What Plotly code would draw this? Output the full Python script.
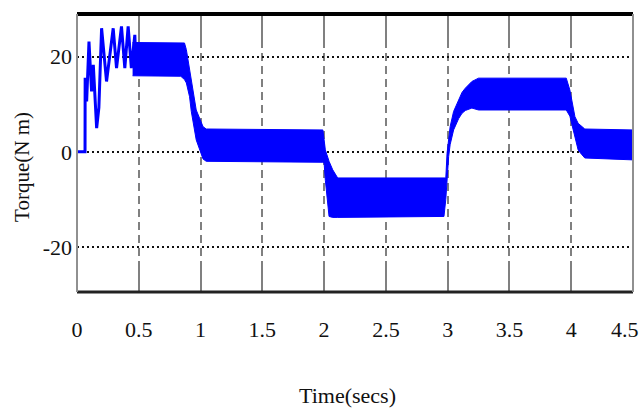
import plotly.graph_objects as go

# ---- data ----
t_transient = [0, 0.065, 0.066, 0.078, 0.097, 0.118, 0.132, 0.159, 0.177, 0.199, 0.239,
               0.266, 0.293, 0.32, 0.36, 0.387, 0.414, 0.44, 0.468, 0.48]
torque_transient = [0, 0, 15.6, 10.6, 23.2, 12.7, 18.3, 5.0, 9.3, 26.0, 14.8,
                    21.1, 26.0, 17.6, 26.4, 17.6, 26.4, 17.6, 24.6, 16.2]

t_band = [0.45, 0.84, 0.87, 0.885, 0.911, 0.925, 0.965, 1.02, 1.046, 1.99, 2.0, 2.01,
          2.04, 2.07, 2.11, 2.97, 2.985, 2.995, 3.008, 3.02, 3.048, 3.089, 3.116, 3.143,
          3.183, 3.196, 3.25, 3.96, 3.989, 4.003, 4.03, 4.056, 4.083, 4.11, 4.5]
torque_upper = [23.0, 23.0, 22.9, 21.5, 17.5, 14.5, 8.8, 5.3, 4.8, 4.6, 3.0, 0.4,
                -2.0, -3.8, -5.5, -5.5, -5.5, -0.3, 3.2, 5.3, 8.5, 10.9, 12.5, 13.4,
                14.6, 14.8, 15.5, 15.5, 13.0, 11.0, 7.4, 6.0, 5.3, 4.8, 4.6]
torque_lower = [16.0, 15.9, 15.2, 14.5, 11.6, 8.5, 2.5, -1.5, -2.0, -2.2, -2.4, -6.0,
                -13.6, -13.8, -13.8, -13.6, -10.0, -5.9, -1.0, 1.5, 4.6, 7.0, 8.1, 8.7,
                9.2, 9.2, 8.8, 8.8, 7.5, 6.0, 3.0, 0.4, -0.5, -1.3, -1.7]

x_tick_vals = [0, 0.5, 1, 1.5, 2, 2.5, 3, 3.5, 4, 4.5]
x_tick_text = ["0", "0.5", "1", "1.5", "2", "2.5", "3", "3.5", "4", "4.5"]
y_tick_vals = [-20, 0, 20]
y_tick_text = ["-20", "0", "20"]

BLUE = "#0000ff"
FONT = "Liberation Serif"
TXT = "#111111"

fig = go.Figure()
fig.add_trace(go.Scatter(x=t_band, y=torque_lower, mode="lines",
                         line=dict(color=BLUE, width=1), showlegend=False, hoverinfo="skip"))
fig.add_trace(go.Scatter(x=t_band, y=torque_upper, mode="lines", fill="tonexty",
                         fillcolor=BLUE, line=dict(color=BLUE, width=1),
                         showlegend=False, hoverinfo="skip"))
fig.add_trace(go.Scatter(x=t_transient, y=torque_transient, mode="lines",
                         line=dict(color=BLUE, width=3), showlegend=False, hoverinfo="skip"))

# the last x label sits at the right edge; draw it as an annotation aligned to fit
axis_tick_text = x_tick_text[:-1] + [""]

fig.update_layout(
    width=644, height=412,
    margin=dict(l=77, r=11, t=14, b=120, autoexpand=False),
    plot_bgcolor="white", paper_bgcolor="white",
    font=dict(family=FONT, color=TXT, size=22),
    xaxis=dict(range=[0, 4.5], tickvals=x_tick_vals, ticktext=axis_tick_text,
               showgrid=True, gridcolor="#808080", gridwidth=2, griddash="8px,5px",
               ticks="inside", ticklen=26, tickwidth=2, tickcolor="#808080",
               mirror="ticks", showline=False, zeroline=False, automargin=False,
               ticklabeloverflow="allow",
               ticklabelstandoff=22, tickfont=dict(family=FONT, size=22, color=TXT)),
    yaxis=dict(range=[-29.5, 29], tickvals=y_tick_vals, ticktext=y_tick_text,
               showgrid=True, gridcolor=TXT, gridwidth=2, griddash="2px,3px",
               ticks="", showline=False, zeroline=False, automargin=False,
               ticklabelstandoff=4, tickfont=dict(family=FONT, size=22, color=TXT)),
    shapes=[
        dict(type="line", xref="paper", yref="paper", x0=0, x1=1, y0=1, y1=1,
             line=dict(color="#000000", width=4)),
        dict(type="line", xref="paper", yref="paper", x0=0, x1=1, y0=0, y1=0,
             line=dict(color="#222222", width=3)),
        dict(type="line", xref="paper", yref="paper", x0=0, x1=0, y0=0, y1=1,
             line=dict(color="#909090", width=2)),
        dict(type="line", xref="paper", yref="paper", x0=1, x1=1, y0=0, y1=1,
             line=dict(color="#909090", width=2)),
    ],
    annotations=[
        dict(text=x_tick_text[-1], xref="x", yref="paper", x=x_tick_vals[-1], y=0,
             xanchor="right", yanchor="middle", xshift=8, yshift=-37,
             showarrow=False, font=dict(family=FONT, size=22, color=TXT)),
        dict(text="Torque(N m)", xref="paper", yref="paper", x=0, y=0.45,
             xanchor="center", yanchor="middle", xshift=-55, textangle=-90,
             showarrow=False, font=dict(family=FONT, size=21, color=TXT)),
        dict(text="Time(secs)", xref="paper", yref="paper", x=0.486, y=0,
             xanchor="center", yanchor="middle", yshift=-103,
             showarrow=False, font=dict(family=FONT, size=22, color=TXT)),
    ],
)

fig.write_html("out.html", config={"displayModeBar": False},
               post_script="document.body.style.margin='0px';document.body.style.overflow='hidden';")
